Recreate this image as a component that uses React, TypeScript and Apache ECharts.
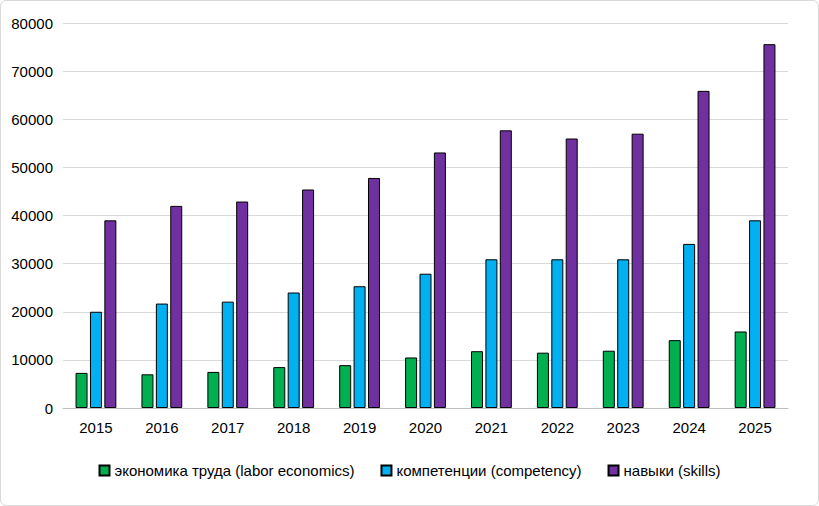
import React, { useEffect, useRef } from 'react';
import * as echarts from 'echarts';

const years = ['2015', '2016', '2017', '2018', '2019', '2020', '2021', '2022', '2023', '2024', '2025'];
const laborEconomics = [7300, 7000, 7500, 8500, 8900, 10500, 11800, 11500, 11900, 14100, 15900];
const competency = [20000, 21700, 22100, 24000, 25300, 27900, 30900, 30900, 30900, 34100, 39000];
const skills = [39000, 42000, 42900, 45400, 47800, 53100, 57700, 56000, 57000, 65900, 75600];

const font = 'Liberation Sans, Arial, sans-serif';

export default function App() {
  const ref = useRef<HTMLDivElement>(null);

  useEffect(() => {
    if (!ref.current) return;
    const chart = echarts.init(ref.current, undefined, { renderer: 'svg' });
    const bar = (name: string, data: number[], color: string) => ({
      name,
      type: 'bar',
      data,
      barWidth: 12,
      barGap: '20%',
      itemStyle: { color, borderColor: '#000', borderWidth: 1 },
    });
    chart.setOption({
      animation: false,
      textStyle: { fontFamily: font },
      grid: { left: 62, right: 30, top: 22, bottom: 97 },
      legend: {
        bottom: 22,
        left: 'center',
        icon: 'rect',
        itemWidth: 10,
        itemHeight: 10,
        itemGap: 26,
        textStyle: { fontSize: 15, color: '#000', fontFamily: font },
      },
      xAxis: {
        type: 'category',
        data: years,
        axisLine: { lineStyle: { color: '#bfbfbf' } },
        axisTick: { show: false },
        axisLabel: { fontSize: 15, color: '#000', margin: 12 },
      },
      yAxis: {
        type: 'value',
        min: 0,
        max: 80000,
        interval: 10000,
        axisLine: { show: false },
        axisTick: { show: false },
        splitLine: { lineStyle: { color: '#d9d9d9' } },
        axisLabel: { fontSize: 15, color: '#000', margin: 10, formatter: (v: number) => String(v) },
      },
      series: [
        bar('экономика труда (labor economics)', laborEconomics, '#00B050'),
        bar('компетенции (competency)', competency, '#00B0F0'),
        bar('навыки (skills)', skills, '#7030A0'),
      ],
    });
    return () => chart.dispose();
  }, []);

  return (
    <div
      style={{
        position: 'absolute',
        left: 0,
        top: 0,
        width: 817,
        height: 504,
        border: '1px solid #d9d9d9',
        borderRadius: 6,
        background: '#fff',
      }}
    >
      <div ref={ref} style={{ width: 817, height: 504 }} />
    </div>
  );
}
